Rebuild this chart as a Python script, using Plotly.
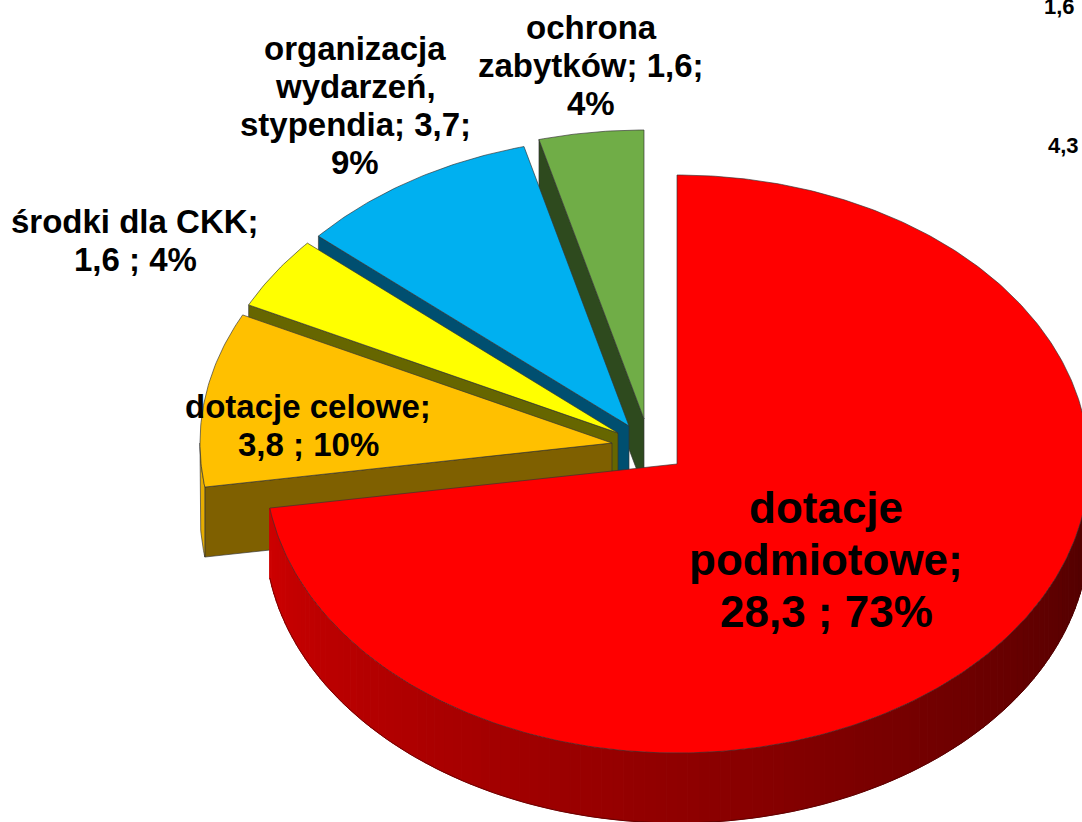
import math
import plotly.graph_objects as go

# ---- data ----
categories = ["dotacje podmiotowe", "dotacje celowe", "środki dla CKK",
              "organizacja wydarzeń, stypendia", "ochrona zabytków"]
values = [28.3, 3.8, 1.6, 3.7, 1.6]
percents = ["73%", "10%", "4%", "9%", "4%"]
value_text = ["28,3 ", "3,8 ", "1,6 ", "3,7", "1,6"]
stray_labels = ["1,6", "4,3"]

# ---- style / layout ----
W, H = 1082, 822
top_colors = ["#ff0000", "#ffc000", "#ffff00", "#00b0f0", "#70ad47"]
wall_colors = [None, "#7f6000", "#666600", "#004f70", "#2e4a1e"]
rim_colors = [None, "#e6ad00", "#808000", "#006a90", "#3a5a25"]
CX, CY, RX, RY, DEPTH = 677, 464, 412, 289, 70
explode = [(0, 0), (-65, -21), (-59, -31), (-48, -38), (-33, -45)]
EDGE = "rgba(50,50,50,0.65)"

# centre x, y of first line, line step, font size
label_pos = [(826, 507, 52, 44), (308, 406.5, 38, 33), (135, 221, 38, 33), (355, 48, 38.3, 33), (591, 27, 38, 33)]
label_lines = [
    ["dotacje", "podmiotowe;", "{v}; {p}"],
    ["dotacje celowe;", "{v}; {p}"],
    ["środki dla CKK;", "{v}; {p}"],
    ["organizacja", "wydarzeń,", "stypendia; {v};", "{p}"],
    ["ochrona", "zabytków; {v};", "{p}"],
]
stray_pos = [(1059, 6), (1063, 145)]


def pt(c, a, dy=0):
    r = math.radians(a)
    return c[0] + RX * math.sin(r), c[1] - RY * math.cos(r) + dy


def arc(c, a0, a1, dy=0, n=None):
    n = n or max(4, int(abs(a1 - a0) * 1.5))
    return [pt(c, a0 + (a1 - a0) * i / n, dy) for i in range(n + 1)]


def poly(fig, pts, fill, line=None, width=1):
    xs = [p[0] for p in pts] + [pts[0][0]]
    ys = [p[1] for p in pts] + [pts[0][1]]
    fig.add_trace(go.Scatter(x=xs, y=ys, mode="lines", fill="toself", fillcolor=fill,
                             line=dict(color=line or fill, width=width),
                             hoverinfo="skip", showlegend=False))


def red_wall_color(a):
    # lit at the left, dark at the right
    t = (a - 90) / (261.2 - 90)
    t = max(0.0, min(1.0, t))
    return "rgb(%d,0,0)" % round(75 + (205 - 75) * t)


total = sum(values)
spans = []
start = 0.0
for v in values:
    spans.append((start, start + v / total * 360))
    start += v / total * 360

fig = go.Figure()
# painter's order: back slices first, the big front slice last
for i in [4, 3, 2, 1, 0]:
    a0, a1 = spans[i]
    c = (CX + explode[i][0], CY + explode[i][1])
    if i > 0:
        # radial face
        o = pt(c, a0)
        poly(fig, [c, o, (o[0], o[1] + DEPTH), (c[0], c[1] + DEPTH)], wall_colors[i], EDGE)
        # visible rim
        if a0 < 270:
            top = arc(c, a0, 270)
            poly(fig, top + [(p[0], p[1] + DEPTH) for p in reversed(top)], rim_colors[i], EDGE)
    else:
        seg = 1.5
        a = 90.0
        while a < a1 - 1e-6:
            b = min(a + seg, a1)
            top = arc(c, a, b, n=2)
            col = red_wall_color((a + b) / 2)
            poly(fig, top + [(p[0], p[1] + DEPTH) for p in reversed(top)], col, col)
            a = b
        top = arc(c, 90, a1)
        fig.add_trace(go.Scatter(x=[p[0] for p in top], y=[p[1] + DEPTH for p in top], mode="lines",
                                 line=dict(color="rgba(70,0,0,0.6)", width=1),
                                 hoverinfo="skip", showlegend=False))
    # top face
    poly(fig, [c] + arc(c, a0, a1), top_colors[i], EDGE)

annotations = []
for i in range(len(values)):
    x, y, step, size = label_pos[i]
    for k, line in enumerate(label_lines[i]):
        annotations.append(dict(
            x=x, y=y + k * step, xref="x", yref="y", showarrow=False,
            xanchor="center", yanchor="middle",
            text="<b>" + line.format(v=value_text[i], p=percents[i]) + "</b>",
            font=dict(family="Liberation Sans", size=size, color="#000000")))
for t, (x, y) in zip(stray_labels, stray_pos):
    annotations.append(dict(x=x, y=y, xref="x", yref="y", showarrow=False,
                            xanchor="center", yanchor="middle", text="<b>" + t + "</b>",
                            font=dict(family="Liberation Sans", size=22, color="#000000")))

fig.update_layout(
    width=W, height=H, margin=dict(l=0, r=0, t=0, b=0),
    paper_bgcolor="white", plot_bgcolor="white", showlegend=False,
    xaxis=dict(range=[0, W], visible=False, fixedrange=True),
    yaxis=dict(range=[H, 0], visible=False, fixedrange=True),
    annotations=annotations,
)
fig.write_html("out.html", config={"displayModeBar": False},
               post_script="document.body.style.margin='0';")
